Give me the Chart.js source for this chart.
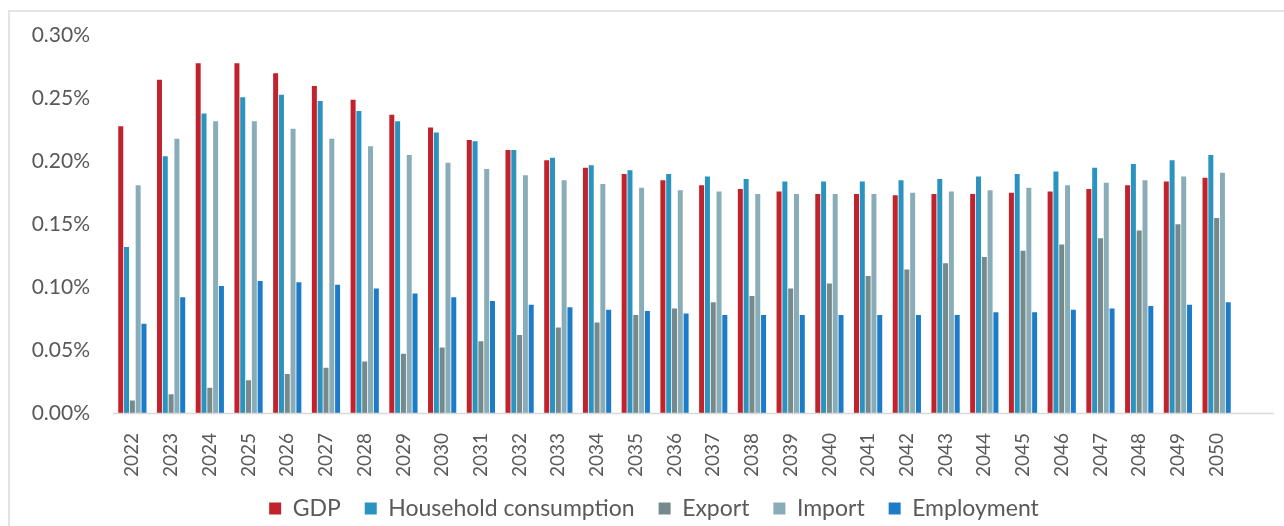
<!DOCTYPE html>
<html lang="en">
<head>
<meta charset="UTF-8">
<title>Impact by year</title>
<script src="https://cdn.jsdelivr.net/npm/chart.js"></script>
<style>
    html, body { margin: 0; padding: 0; background: #fff; overflow: hidden; }
    #frame { position: absolute; left: 8px; top: 10px; width: 1300px; height: 560px; border: 2px solid #e3e3e3; box-sizing: border-box; }
    #wrap { position: absolute; left: 0; top: 0; width: 1284px; height: 536px; }
</style>
</head>
<body>
<div id="frame"></div>
<div id="wrap"><canvas id="chart"></canvas></div>
<script>
    // years on the x axis
    const years = ['2022','2023','2024','2025','2026','2027','2028','2029','2030','2031',
        '2032','2033','2034','2035','2036','2037','2038','2039','2040','2041',
        '2042','2043','2044','2045','2046','2047','2048','2049','2050'];

    // values in percent
    const gdp = [0.228,0.265,0.278,0.278,0.270,0.260,0.249,0.237,0.227,0.217,
        0.209,0.201,0.195,0.190,0.185,0.181,0.178,0.176,0.174,0.174,
        0.173,0.174,0.174,0.175,0.176,0.178,0.181,0.184,0.187];
    const household = [0.132,0.204,0.238,0.251,0.253,0.248,0.240,0.232,0.223,0.216,
        0.209,0.203,0.197,0.193,0.190,0.188,0.186,0.184,0.184,0.184,
        0.185,0.186,0.188,0.190,0.192,0.195,0.198,0.201,0.205];
    const exportVals = [0.010,0.015,0.020,0.026,0.031,0.036,0.041,0.047,0.052,0.057,
        0.062,0.068,0.072,0.078,0.083,0.088,0.093,0.099,0.103,0.109,
        0.114,0.119,0.124,0.129,0.134,0.139,0.145,0.150,0.155];
    const importVals = [0.181,0.218,0.232,0.232,0.226,0.218,0.212,0.205,0.199,0.194,
        0.189,0.185,0.182,0.179,0.177,0.176,0.174,0.174,0.174,0.174,
        0.175,0.176,0.177,0.179,0.181,0.183,0.185,0.188,0.191];
    const employment = [0.071,0.092,0.101,0.105,0.104,0.102,0.099,0.095,0.092,0.089,
        0.086,0.084,0.082,0.081,0.079,0.078,0.078,0.078,0.078,0.078,
        0.078,0.078,0.080,0.080,0.082,0.083,0.085,0.086,0.088];

    const FONT = 'Lato, "Open Sans", sans-serif';
    const TEXT = '#595959';

    const tweaks = {
        id: 'tweaks',
        afterLayout(chart) {
            // legend sits a bit higher and further right than Chart.js puts it
            const lg = chart.legend;
            lg.top -= 6; lg.bottom -= 6;
            lg.left += 36; lg.right += 36;
        },
        // baseline runs a bit past the last category, like in the original
        afterDatasetsDraw(chart) {
            const { ctx, chartArea, scales } = chart;
            const y = Math.round(scales.y.getPixelForValue(0)) + 0.5;
            ctx.save();
            ctx.strokeStyle = '#d9d9d9';
            ctx.lineWidth = 1.5;
            ctx.beginPath();
            ctx.moveTo(chartArea.left, y);
            ctx.lineTo(chartArea.right + 38, y);
            ctx.stroke();
            ctx.restore();
        }
    };

    function ds(label, data, color) {
        return {
            label: label,
            data: data,
            backgroundColor: color,
            borderWidth: 0,
            barPercentage: 0.86,
            categoryPercentage: 0.75
        };
    }

    new Chart(document.getElementById('chart'), {
        type: 'bar',
        data: {
            labels: years,
            datasets: [
                ds('GDP', gdp, '#c0232b'),
                ds('Household consumption', household, '#2b93bf'),
                ds('Export', exportVals, '#768a8c'),
                ds('Import', importVals, '#89adb8'),
                ds('Employment', employment, '#1c7cc8')
            ]
        },
        options: {
            responsive: true,
            maintainAspectRatio: false,
            animation: false,
            layout: { padding: { top: 33, right: 48, bottom: 0, left: 0 } },
            plugins: {
                tooltip: { enabled: false },
                legend: {
                    position: 'bottom',
                    labels: {
                        boxWidth: 12,
                        boxHeight: 12,
                        padding: 24,
                        color: TEXT,
                        font: { family: FONT, size: 23 }
                    }
                }
            },
            scales: {
                x: {
                    grid: { display: false, drawTicks: false },
                    border: { display: false },
                    ticks: {
                        color: TEXT,
                        font: { family: FONT, size: 19 },
                        minRotation: 90,
                        maxRotation: 90,
                        padding: 20,
                        autoSkip: false
                    },
                    afterFit(s) { s.height = 66; }
                },
                y: {
                    min: 0,
                    max: 0.30,
                    grid: { display: false, drawTicks: false },
                    border: { display: false },
                    ticks: {
                        stepSize: 0.05,
                        color: TEXT,
                        padding: 23,
                        font: { family: FONT, size: 21 },
                        callback: v => v.toFixed(2) + '%'
                    },
                    afterFit(s) { s.width = 113; }
                }
            }
        },
        plugins: [tweaks]
    });
</script>
</body>
</html>
